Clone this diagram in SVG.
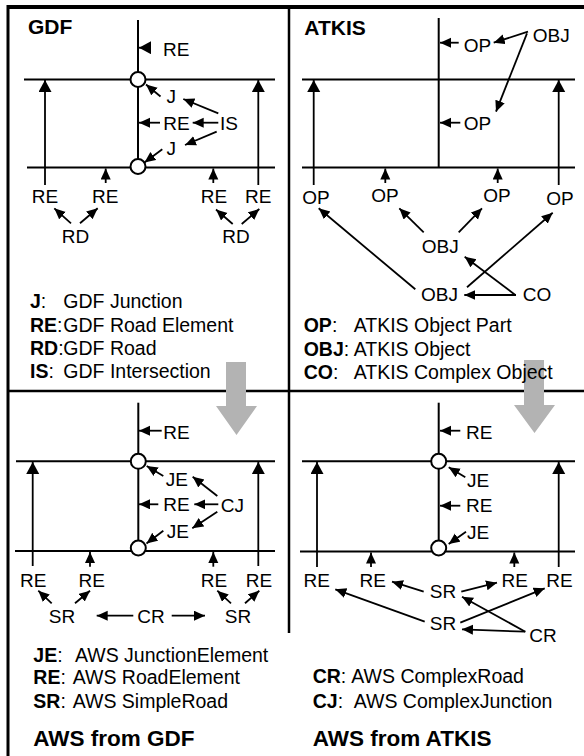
<svg xmlns="http://www.w3.org/2000/svg" width="584" height="756" viewBox="0 0 584 756">
<style>
text{font-family:"Liberation Sans",Arial,sans-serif;fill:#000}
.lb{font-size:19px}
.lg{font-size:19.5px}
.b{font-weight:bold}
.t{font-size:21px;font-weight:bold}
.t2{font-size:22.5px;font-weight:bold}
.frame{stroke:#000;fill:none}
.road{stroke:#000;stroke-width:2;fill:none}
.c{stroke:#000;stroke-width:1.8;fill:none;marker-end:url(#ah)}
.cb{stroke:#000;stroke-width:1.8;fill:none;marker-end:url(#ahb)}
.jn{fill:#fff;stroke:#000;stroke-width:2}
.gray{fill:#b3b3b3}
</style>
<defs>
<marker id="ah" markerUnits="userSpaceOnUse" markerWidth="12" markerHeight="11" refX="11" refY="5" orient="auto"><path d="M0,0 L11,5 L0,10 z" fill="#000"/></marker>
<marker id="ahb" markerUnits="userSpaceOnUse" markerWidth="13" markerHeight="14" refX="12" refY="6.5" orient="auto"><path d="M0,0 L12,6.5 L0,13 z" fill="#000"/></marker>
</defs>
<rect width="584" height="756" fill="#fff"/>
<g id="frame">
<line class="frame" x1="8" y1="7" x2="584" y2="7" stroke-width="4"/>
<line class="frame" x1="8" y1="5" x2="8" y2="756" stroke-width="3"/>
<line class="frame" x1="289" y1="7" x2="289" y2="633" stroke-width="2.5"/>
<line class="frame" x1="8" y1="391" x2="584" y2="391" stroke-width="2.5"/>
</g>
<g id="transform-arrows">
<path class="gray" d="M226,362 H246 V406 H257 L236.5,435 L216,406 H226 Z"/>
<path class="gray" d="M524,360 H544 V405 H555 L534.5,433 L514,405 H524 Z"/>
</g>
<g id="gdf-roads">
<line class="road" x1="138" y1="20" x2="138" y2="167"/>
<line class="road" x1="24" y1="79.5" x2="275" y2="79.5"/>
<line class="road" x1="27" y1="167.5" x2="275" y2="167.5"/>
<circle class="jn" cx="138" cy="79.5" r="7.5"/>
<circle class="jn" cx="138" cy="166.5" r="7.5"/>
</g>
<g id="atkis-roads">
<line class="road" x1="438.7" y1="18" x2="438.7" y2="167.5"/>
<line class="road" x1="302" y1="79.5" x2="575" y2="79.5"/>
<line class="road" x1="302" y1="167.5" x2="575" y2="167.5"/>
</g>
<g id="awsgdf-roads">
<line class="road" x1="138.3" y1="402.7" x2="138.3" y2="550"/>
<line class="road" x1="16" y1="461.3" x2="275" y2="461.3"/>
<line class="road" x1="15" y1="551" x2="275" y2="551"/>
<circle class="jn" cx="138.3" cy="461.3" r="7.5"/>
<circle class="jn" cx="138.3" cy="548" r="7.5"/>
</g>
<g id="awsatkis-roads">
<line class="road" x1="438.7" y1="402.7" x2="438.7" y2="550"/>
<line class="road" x1="302" y1="461.3" x2="575" y2="461.3"/>
<line class="road" x1="300" y1="551.5" x2="575" y2="551.5"/>
<circle class="jn" cx="438.7" cy="461.3" r="7.5"/>
<circle class="jn" cx="438.7" cy="548" r="7.5"/>
</g>
<g id="connectors">
<!-- GDF -->
<line class="cb" x1="151" y1="47.7" x2="139" y2="47.7"/>
<line class="cb" x1="45" y1="185" x2="45" y2="80"/>
<line class="cb" x1="258.3" y1="185" x2="258.3" y2="80"/>
<line class="c" x1="105.7" y1="183" x2="105.7" y2="168.5"/>
<line class="c" x1="213.3" y1="183" x2="213.3" y2="168.5"/>
<line class="c" x1="160.5" y1="96.5" x2="146" y2="84.5"/>
<line class="c" x1="160" y1="122.7" x2="139" y2="122.7"/>
<line class="c" x1="218.3" y1="122.7" x2="192.7" y2="122.7"/>
<line class="c" x1="218.3" y1="113.3" x2="183.3" y2="99"/>
<line class="c" x1="216.7" y1="131.7" x2="185" y2="145"/>
<line class="c" x1="162.3" y1="149.3" x2="144.5" y2="162.5"/>
<line class="c" x1="71" y1="223.3" x2="54.3" y2="208.3"/>
<line class="c" x1="80" y1="223.3" x2="97.7" y2="208.3"/>
<line class="c" x1="232.7" y1="224" x2="216" y2="209.5"/>
<line class="c" x1="241.7" y1="224" x2="259.3" y2="209"/>
<!-- ATKIS -->
<line class="c" x1="458.7" y1="42.7" x2="440" y2="42.7"/>
<line class="c" x1="460.3" y1="122.7" x2="440" y2="122.7"/>
<line class="c" x1="528" y1="31.7" x2="493.7" y2="42.7"/>
<line class="c" x1="527" y1="33.3" x2="496" y2="111.7"/>
<line class="cb" x1="313.7" y1="185" x2="313.7" y2="80"/>
<line class="cb" x1="558.7" y1="185" x2="558.7" y2="80"/>
<line class="c" x1="385.3" y1="183" x2="385.3" y2="168.5"/>
<line class="c" x1="497.7" y1="183" x2="497.7" y2="168.5"/>
<line class="c" x1="415.3" y1="289.3" x2="318.7" y2="208.3"/>
<line class="c" x1="423.7" y1="232.3" x2="399.3" y2="208.3"/>
<line class="c" x1="458.7" y1="232.3" x2="482" y2="208.3"/>
<line class="c" x1="467" y1="287.3" x2="552.7" y2="212.7"/>
<line class="c" x1="515.3" y1="295" x2="464.7" y2="256.7"/>
<line class="c" x1="516" y1="295" x2="464.3" y2="295"/>
<!-- AWS from GDF -->
<line class="c" x1="161.7" y1="430.7" x2="139" y2="430.7"/>
<line class="cb" x1="32.7" y1="566" x2="32.7" y2="462"/>
<line class="cb" x1="258.3" y1="566" x2="258.3" y2="462"/>
<line class="c" x1="90" y1="566.7" x2="90" y2="552"/>
<line class="c" x1="213.3" y1="566.7" x2="213.3" y2="552"/>
<line class="c" x1="163.3" y1="476" x2="146.7" y2="466"/>
<line class="c" x1="158.3" y1="504.3" x2="139" y2="504.3"/>
<line class="c" x1="217.3" y1="496" x2="192.7" y2="476.7"/>
<line class="c" x1="218.3" y1="504.3" x2="194.3" y2="504.3"/>
<line class="c" x1="217.3" y1="511.7" x2="192.3" y2="528.3"/>
<line class="c" x1="163.3" y1="530.7" x2="146.5" y2="543.5"/>
<line class="c" x1="51.7" y1="603.3" x2="38.3" y2="590.7"/>
<line class="c" x1="75" y1="603.3" x2="90" y2="590.7"/>
<line class="c" x1="231" y1="603.3" x2="217.3" y2="590.7"/>
<line class="c" x1="245" y1="603.3" x2="259.3" y2="590.7"/>
<line class="c" x1="133.3" y1="615.7" x2="96.7" y2="615.7"/>
<line class="c" x1="171.7" y1="615.7" x2="205" y2="615.7"/>
<!-- AWS from ATKIS -->
<line class="c" x1="460.3" y1="430.7" x2="440" y2="430.7"/>
<line class="c" x1="465.3" y1="477.3" x2="448.7" y2="467.3"/>
<line class="c" x1="460.3" y1="505.7" x2="440" y2="505.7"/>
<line class="c" x1="466" y1="531.7" x2="448.7" y2="544"/>
<line class="cb" x1="317" y1="567" x2="317" y2="462"/>
<line class="cb" x1="558.7" y1="567" x2="558.7" y2="462"/>
<line class="c" x1="371" y1="567" x2="371" y2="552.5"/>
<line class="c" x1="514.3" y1="567" x2="514.3" y2="552.5"/>
<line class="c" x1="423.7" y1="591.7" x2="392" y2="581.7"/>
<line class="c" x1="461.3" y1="591.7" x2="497" y2="582.7"/>
<line class="c" x1="424.7" y1="621.7" x2="335.3" y2="589.3"/>
<line class="c" x1="460.3" y1="622.7" x2="544.7" y2="588.3"/>
<line class="c" x1="525.3" y1="631.7" x2="462" y2="596.7"/>
<line class="c" x1="525.3" y1="631.7" x2="462" y2="629.3"/>
</g>
<g id="gdf-labels">
<text class="t" x="28" y="34">GDF</text>
<text class="lb" x="163" y="56">RE</text>
<text class="lb" x="166.5" y="103.3">J</text>
<text class="lb" x="163.3" y="130">RE</text>
<text class="lb" x="220" y="130">IS</text>
<text class="lb" x="166.5" y="155">J</text>
<text class="lb" x="45" y="202.5" text-anchor="middle">RE</text>
<text class="lb" x="105.3" y="202.5" text-anchor="middle">RE</text>
<text class="lb" x="214" y="202.5" text-anchor="middle">RE</text>
<text class="lb" x="258.3" y="202.5" text-anchor="middle">RE</text>
<text class="lb" x="75.5" y="242.5" text-anchor="middle">RD</text>
<text class="lb" x="236" y="242.5" text-anchor="middle">RD</text>
</g>
<g id="gdf-legend">
<text class="lg" x="30" y="308.3"><tspan class="b">J</tspan>:</text>
<text class="lg" x="63.3" y="308.3">GDF Junction</text>
<text class="lg" x="30" y="331.7"><tspan class="b">RE</tspan>:</text>
<text class="lg" x="63.3" y="331.7">GDF Road Element</text>
<text class="lg" x="30" y="355"><tspan class="b">RD</tspan>:</text>
<text class="lg" x="63.3" y="355">GDF Road</text>
<text class="lg" x="30" y="378.3"><tspan class="b">IS</tspan>:</text>
<text class="lg" x="63.3" y="378.3">GDF Intersection</text>
</g>
<g id="atkis-labels">
<text class="t" x="304.3" y="34.7">ATKIS</text>
<text class="lb" x="463.7" y="51.7">OP</text>
<text class="lb" x="532.7" y="41.7">OBJ</text>
<text class="lb" x="463.7" y="130">OP</text>
<text class="lb" x="316" y="204" text-anchor="middle">OP</text>
<text class="lb" x="385" y="202.3" text-anchor="middle">OP</text>
<text class="lb" x="497" y="202.3" text-anchor="middle">OP</text>
<text class="lb" x="560" y="205" text-anchor="middle">OP</text>
<text class="lb" x="440.3" y="253.3" text-anchor="middle">OBJ</text>
<text class="lb" x="439.5" y="300.7" text-anchor="middle">OBJ</text>
<text class="lb" x="522.7" y="300.7">CO</text>
</g>
<g id="atkis-legend">
<text class="lg" x="303.7" y="332.3"><tspan class="b">OP</tspan>:</text>
<text class="lg" x="353.7" y="332.3">ATKIS Object Part</text>
<text class="lg" x="303.7" y="355.7"><tspan class="b">OBJ</tspan>:</text>
<text class="lg" x="353.7" y="355.7">ATKIS Object</text>
<text class="lg" x="303.7" y="379"><tspan class="b">CO</tspan>:</text>
<text class="lg" x="353.7" y="379">ATKIS Complex Object</text>
</g>
<g id="awsgdf-labels">
<text class="lb" x="163.3" y="439.3">RE</text>
<text class="lb" x="165.7" y="486">JE</text>
<text class="lb" x="163.3" y="510.7">RE</text>
<text class="lb" x="220.7" y="511.7">CJ</text>
<text class="lb" x="166.7" y="537.7">JE</text>
<text class="lb" x="33.3" y="587" text-anchor="middle">RE</text>
<text class="lb" x="91.7" y="587" text-anchor="middle">RE</text>
<text class="lb" x="214" y="587" text-anchor="middle">RE</text>
<text class="lb" x="259" y="587" text-anchor="middle">RE</text>
<text class="lb" x="62" y="623.3" text-anchor="middle">SR</text>
<text class="lb" x="151" y="623.3" text-anchor="middle">CR</text>
<text class="lb" x="238" y="623.3" text-anchor="middle">SR</text>
</g>
<g id="awsgdf-legend">
<text class="lg" x="33.3" y="661.7"><tspan class="b">JE</tspan>:</text>
<text class="lg" x="75" y="661.7">AWS JunctionElement</text>
<text class="lg" x="33.3" y="684.3"><tspan class="b">RE</tspan>:</text>
<text class="lg" x="72.7" y="684.3">AWS RoadElement</text>
<text class="lg" x="33.3" y="707.7"><tspan class="b">SR</tspan>:</text>
<text class="lg" x="72.7" y="707.7">AWS SimpleRoad</text>
<text class="t2" x="33.3" y="746">AWS from GDF</text>
</g>
<g id="awsatkis-labels">
<text class="lb" x="466" y="439.3">RE</text>
<text class="lb" x="467" y="486.7">JE</text>
<text class="lb" x="466" y="511.7">RE</text>
<text class="lb" x="467" y="539.3">JE</text>
<text class="lb" x="316.7" y="587" text-anchor="middle">RE</text>
<text class="lb" x="372.8" y="587" text-anchor="middle">RE</text>
<text class="lb" x="514.8" y="587" text-anchor="middle">RE</text>
<text class="lb" x="559.5" y="587" text-anchor="middle">RE</text>
<text class="lb" x="443" y="598.3" text-anchor="middle">SR</text>
<text class="lb" x="443" y="630" text-anchor="middle">SR</text>
<text class="lb" x="529.3" y="641.7">CR</text>
</g>
<g id="awsatkis-legend">
<text class="lg" x="312.7" y="683.3"><tspan class="b">CR</tspan>:</text>
<text class="lg" x="351.3" y="683.3">AWS ComplexRoad</text>
<text class="lg" x="312.7" y="707.7"><tspan class="b">CJ</tspan>:</text>
<text class="lg" x="353.7" y="707.7">AWS ComplexJunction</text>
<text class="t2" x="312.7" y="746">AWS from ATKIS</text>
</g>
</svg>
